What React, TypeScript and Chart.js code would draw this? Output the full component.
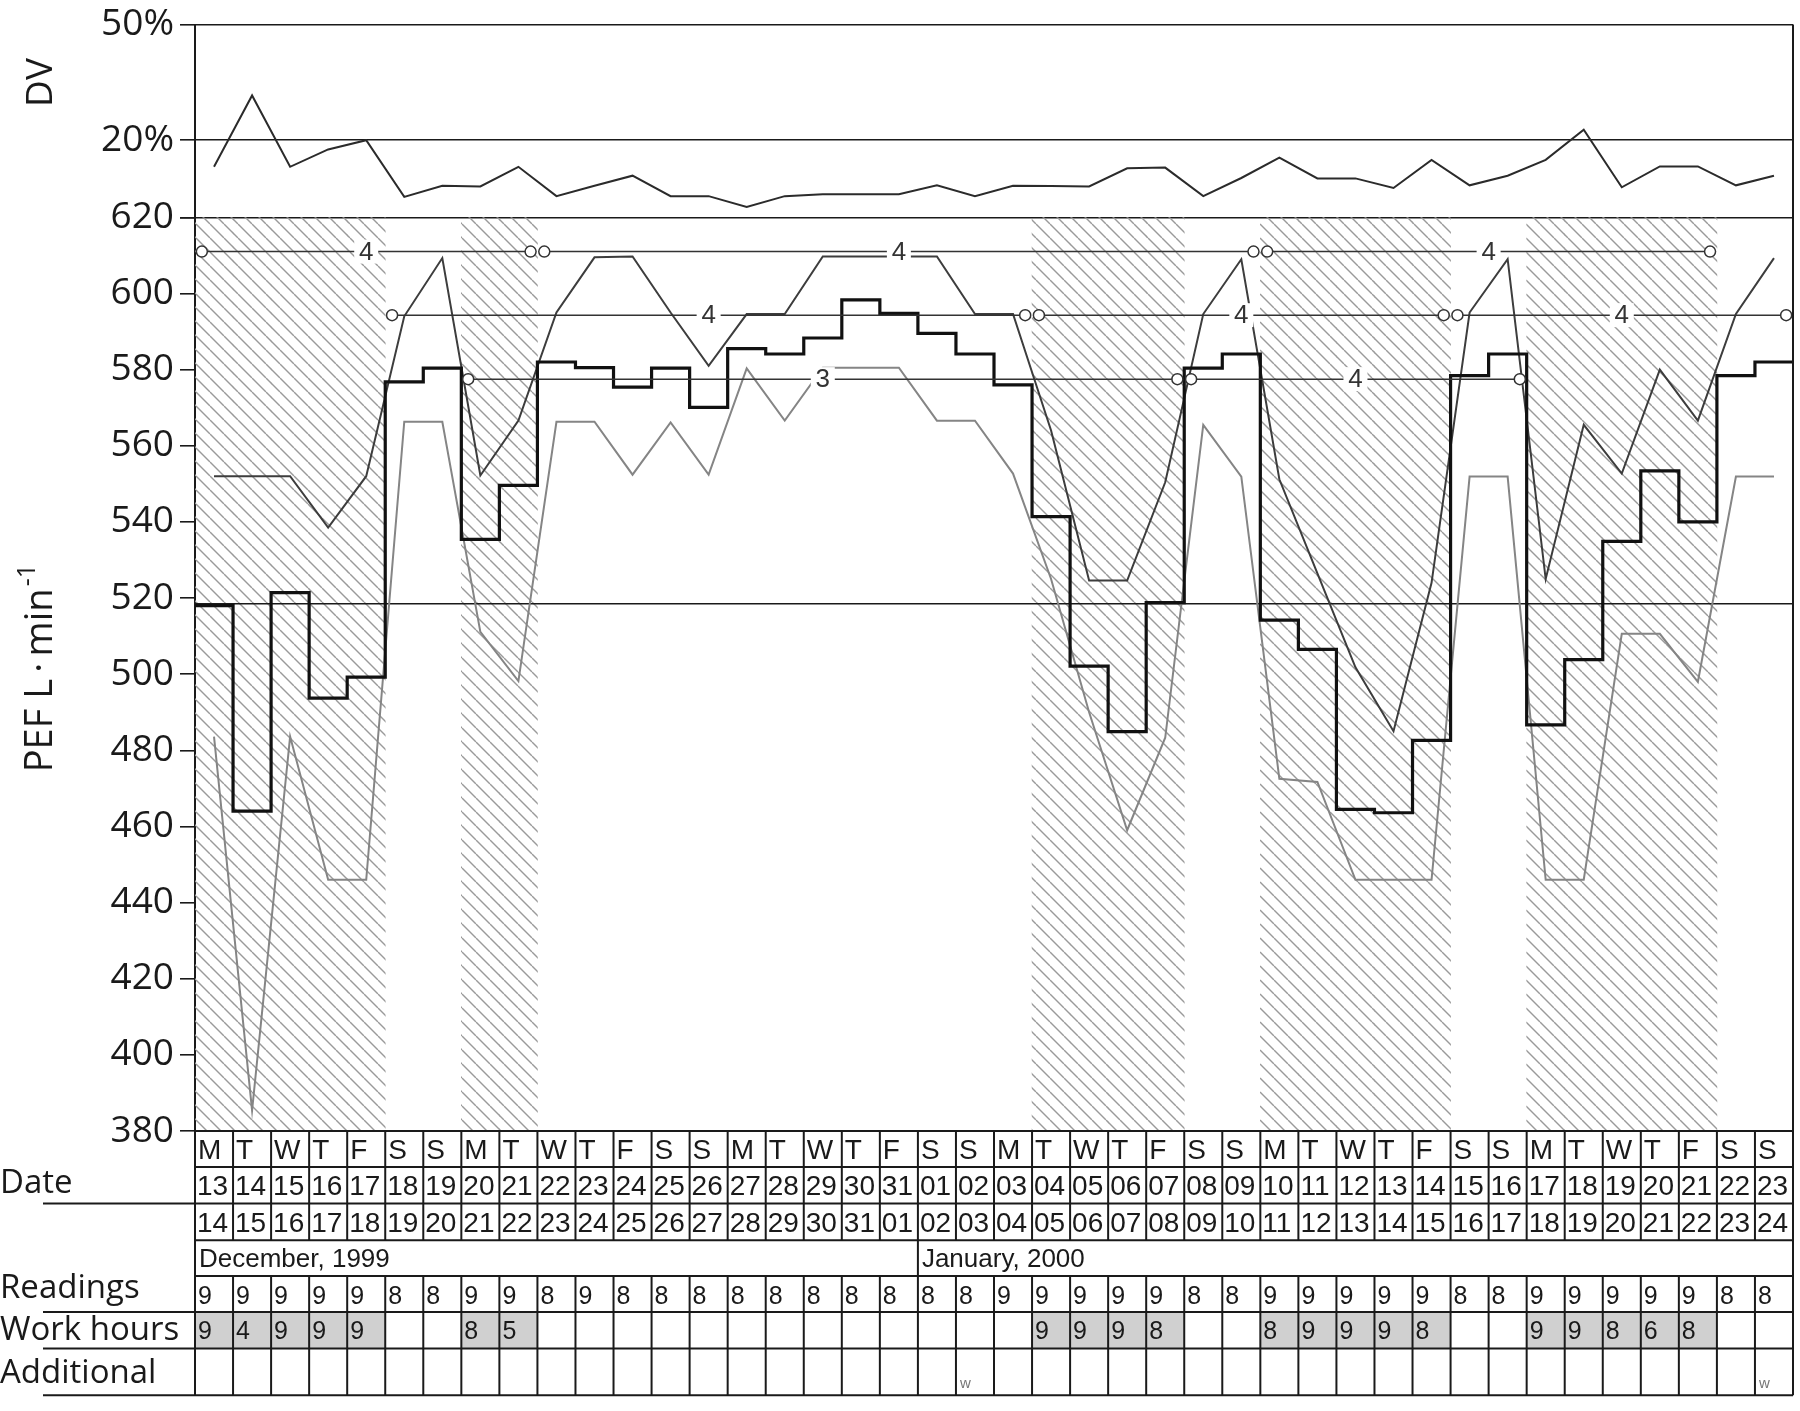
import React, { useEffect, useRef } from "react";
import { Chart, registerables } from "chart.js";
import type { Plugin } from "chart.js";

Chart.register(...registerables);

// ---- data -------------------------------------------------------------
const dayLetters = [
  "M", "T", "W", "T", "F", "S", "S",
  "M", "T", "W", "T", "F", "S", "S",
  "M", "T", "W", "T", "F", "S", "S",
  "M", "T", "W", "T", "F", "S", "S",
  "M", "T", "W", "T", "F", "S", "S",
  "M", "T", "W", "T", "F", "S", "S",
];
const dateFrom = [
  "13", "14", "15", "16", "17", "18", "19", "20", "21", "22", "23", "24", "25", "26",
  "27", "28", "29", "30", "31", "01", "02", "03", "04", "05", "06", "07", "08", "09",
  "10", "11", "12", "13", "14", "15", "16", "17", "18", "19", "20", "21", "22", "23",
];
const dateTo = [
  "14", "15", "16", "17", "18", "19", "20", "21", "22", "23", "24", "25", "26", "27",
  "28", "29", "30", "31", "01", "02", "03", "04", "05", "06", "07", "08", "09", "10",
  "11", "12", "13", "14", "15", "16", "17", "18", "19", "20", "21", "22", "23", "24",
];
const months = [
  { label: "December, 1999", start: 0 },
  { label: "January, 2000", start: 19 },
];
const readings = [
  9, 9, 9, 9, 9, 8, 8, 9, 9, 8, 9, 8, 8, 8, 8, 8, 8, 8, 8,
  8, 8, 9, 9, 9, 9, 9, 8, 8, 9, 9, 9, 9, 9, 8, 8, 9, 9, 9, 9, 9, 8, 8,
];
const workHours: (number | null)[] = [
  9, 4, 9, 9, 9, null, null, 8, 5, null, null, null, null, null,
  null, null, null, null, null, null, null, null, 9, 9, 9, 8, null, null,
  8, 9, 9, 9, 8, null, null, 9, 9, 8, 6, 8, null, null,
];
const additional: string[] = [
  "", "", "", "", "", "", "", "", "", "", "", "", "", "",
  "", "", "", "", "", "", "w", "", "", "", "", "", "", "",
  "", "", "", "", "", "", "", "", "", "", "", "", "", "w",
];

// diurnal variation, %
const dvPercent = [
  13.1, 31.6, 13.1, 17.6, 20.0, 5.3, 8.2, 8.0, 13.1, 5.5, 8.2, 10.8, 5.5, 5.5,
  2.7, 5.5, 6.0, 6.0, 6.0, 8.3, 5.5, 8.2, 8.1, 8.0, 12.7, 12.9, 5.5, 10.2,
  15.5, 10.1, 10.1, 7.6, 14.9, 8.3, 10.8, 14.9, 22.7, 7.8, 13.2, 13.2, 8.3, 10.8,
];
// PEF L/min: daily maximum, mean and minimum
const pefMax = [
  552, 552, 552, 538.5, 552, 594, 609.3, 552.2, 566.6, 595, 609.5, 609.7, 595, 581,
  594.6, 594.6, 609.7, 609.7, 609.7, 609.7, 594.6, 594.6, 564, 524.6, 524.6, 550.4, 594.6, 609,
  551.2, 526.5, 501.8, 485, 524, 595, 609, 525, 565.5, 552.7, 580, 566.6, 594.6, 609.3,
];
const pefMean = [
  518, 464, 521.4, 493.7, 499.2, 576.8, 580.4, 535.4, 549.6, 582, 580.5, 575.4, 580.4, 570.1,
  585.5, 584.1, 588.3, 598.3, 594.8, 589.5, 584.1, 576, 541.4, 502.1, 484.9, 518.8, 580.4, 584.1,
  514.2, 506.5, 464.5, 463.6, 482.6, 578.4, 584.1, 486.7, 503.8, 534.9, 553.4, 540, 578.4, 582,
];
const pefMin = [
  483.6, 385.4, 483.6, 446, 446, 566.3, 566.3, 511.1, 498.2, 566.3, 566.3, 552.4, 566.1, 552.4,
  580.3, 566.6, 580.5, 580.5, 580.5, 566.6, 566.6, 552.7, 525, 490, 459, 483.3, 565.5, 551.9,
  472.5, 471.7, 446, 446, 446, 551.9, 551.9, 446, 446, 510.6, 510.6, 498, 551.9, 551.9,
];
const referencePef = 518.5;

// period bars: [first day, day after last, PEF level, label]
const periods: { from: number; to: number; level: number; label: string }[] = [
  { from: 0, to: 9, level: 611, label: "4" },
  { from: 9, to: 28, level: 611, label: "4" },
  { from: 28, to: 40, level: 611, label: "4" },
  { from: 5, to: 22, level: 594.3, label: "4" },
  { from: 22, to: 33, level: 594.3, label: "4" },
  { from: 33, to: 42, level: 594.3, label: "4" },
  { from: 7, to: 26, level: 577.5, label: "3" },
  { from: 26, to: 35, level: 577.5, label: "4" },
];

// ---- styling ---------------------------------------------------------
const LABEL_FONT = '"Open Sans", "DejaVu Sans", sans-serif';
const CELL_FONT = '"Liberation Sans", Arial, sans-serif';
const INK = "#1a1a1a";
const ROW_OFFSETS = [0, 36, 72.6, 109.3, 145, 181, 217.6, 264.3];
const END_INSET = 0.18;

function makeHatch(): CanvasPattern | string {
  const size = 14;
  const c = document.createElement("canvas");
  c.width = size;
  c.height = size;
  const g = c.getContext("2d");
  if (!g) return "#ddd";
  g.strokeStyle = "#9a9a9a";
  g.lineWidth = 1.4;
  for (const k of [-size, 0, size]) {
    g.beginPath();
    g.moveTo(k, 0);
    g.lineTo(k + size, size);
    g.stroke();
  }
  return g.createPattern(c, "repeat") ?? "#ddd";
}

const periodLabels: Plugin<"line"> = {
  id: "periodLabels",
  afterDatasetsDraw(chart) {
    const { ctx } = chart;
    const x = chart.scales.x;
    const y = chart.scales.yPEF;
    ctx.save();
    ctx.font = `26px ${CELL_FONT}`;
    ctx.textAlign = "center";
    ctx.textBaseline = "middle";
    for (const p of periods) {
      const px = x.getPixelForValue((p.from + p.to) / 2);
      const py = y.getPixelForValue(p.level);
      ctx.fillStyle = "#fff";
      ctx.fillRect(px - 12, py - 12, 24, 24);
      ctx.fillStyle = "#333";
      ctx.fillText(p.label, px, py + 1);
    }
    ctx.restore();
  },
};

const tablePlugin: Plugin<"line"> = {
  id: "pefTable",
  afterDraw(chart) {
    const { ctx, chartArea } = chart;
    const xs = chart.scales.x;
    const n = dayLetters.length;
    const colX = (i: number) => xs.getPixelForValue(i);
    const L = chartArea.left;
    const R = chartArea.right;
    const rows = ROW_OFFSETS.map((o) => chartArea.bottom + o);
    const line = (x1: number, y1: number, x2: number, y2: number) => {
      ctx.beginPath();
      ctx.moveTo(x1, y1);
      ctx.lineTo(x2, y2);
      ctx.stroke();
    };

    ctx.save();
    // shaded work-hour cells
    ctx.fillStyle = "#d0d0d0";
    workHours.forEach((h, i) => {
      if (h != null) ctx.fillRect(colX(i), rows[5], colX(i + 1) - colX(i), rows[6] - rows[5]);
    });

    ctx.strokeStyle = INK;
    ctx.lineWidth = 2;
    rows.forEach((y, k) => {
      const extend = k === 2 || k >= 5;
      line(extend ? 43 : L, y, R, y);
    });
    line(L, rows[0], L, rows[7]);
    line(R, chartArea.top, R, rows[7]);
    for (let i = 1; i < n; i++) {
      const x = colX(i);
      line(x, rows[0], x, rows[3]);
      line(x, rows[4], x, rows[7]);
    }
    months.forEach((m) => {
      if (m.start > 0) line(colX(m.start), rows[3], colX(m.start), rows[4]);
    });

    // cell texts
    ctx.fillStyle = INK;
    ctx.textAlign = "left";
    ctx.textBaseline = "middle";
    const mid = (a: number, b: number) => (a + b) / 2 + 2;
    ctx.font = `28px ${CELL_FONT}`;
    for (let i = 0; i < n; i++) {
      ctx.fillText(dayLetters[i], colX(i) + 3, mid(rows[0], rows[1]));
      ctx.fillText(dateFrom[i], colX(i) + 2, mid(rows[1], rows[2]));
      ctx.fillText(dateTo[i], colX(i) + 2, mid(rows[2], rows[3]));
    }
    ctx.font = `26px ${CELL_FONT}`;
    months.forEach((m) => ctx.fillText(m.label, colX(m.start) + 4, mid(rows[3], rows[4])));
    ctx.font = `25px ${CELL_FONT}`;
    for (let i = 0; i < n; i++) {
      ctx.fillText(String(readings[i]), colX(i) + 3, mid(rows[4], rows[5]) + 1);
      const h = workHours[i];
      if (h != null) ctx.fillText(String(h), colX(i) + 3, mid(rows[5], rows[6]));
    }
    ctx.font = `15px ${CELL_FONT}`;
    ctx.fillStyle = "#777";
    ctx.textBaseline = "alphabetic";
    additional.forEach((a, i) => {
      if (a) ctx.fillText(a, colX(i) + 4, rows[7] - 7);
    });

    // row titles
    ctx.fillStyle = INK;
    ctx.font = `33px ${LABEL_FONT}`;
    ctx.fillText("Date", 0, rows[2] - 11);
    ctx.fillText("Readings", 0, rows[5] - 14);
    ctx.fillText("Work hours", 0, rows[6] - 9);
    ctx.fillText("Additional", 0, rows[7] - 12);

    // rotated axis titles
    const dv = chart.scales.yDV;
    ctx.font = `37px ${LABEL_FONT}`;
    ctx.textAlign = "center";
    ctx.textBaseline = "middle";
    ctx.save();
    ctx.translate(41, dv.top + 58);
    ctx.rotate(-Math.PI / 2);
    ctx.fillText("DV", 0, 0);
    ctx.restore();

    const pef = chart.scales.yPEF;
    ctx.save();
    ctx.translate(41, (pef.top + pef.bottom) / 2 - 6);
    ctx.rotate(-Math.PI / 2);
    ctx.font = `38px ${LABEL_FONT}`;
    const main = "PEF L\u2009·\u2009min";
    const w1 = ctx.measureText(main).width;
    ctx.font = `25px ${LABEL_FONT}`;
    const sup = "-1";
    const w2 = ctx.measureText(sup).width;
    const start = -(w1 + w2 + 2) / 2;
    ctx.textAlign = "left";
    ctx.font = `38px ${LABEL_FONT}`;
    ctx.fillText(main, start, 0);
    ctx.font = `25px ${LABEL_FONT}`;
    ctx.fillText(sup, start + w1 + 2, -13);
    ctx.restore();

    ctx.restore();
  },
};

// ---- component -------------------------------------------------------
const PefChart: React.FC = () => {
  const canvasRef = useRef<HTMLCanvasElement>(null);

  useEffect(() => {
    document.body.style.margin = "0";
    const canvas = canvasRef.current;
    if (!canvas) return;
    const ctx = canvas.getContext("2d");
    if (!ctx) return;

    const nDays = dayLetters.length;
    const centre = (arr: number[]) => arr.map((v, i) => ({ x: i + 0.5, y: v }));
    const hatch = makeHatch();
    const workCols = workHours
      .map((h, i) => (h != null ? i : -1))
      .filter((i) => i >= 0);

    const tickFont = { family: LABEL_FONT, size: 37, lineHeight: 1 };

    const chart = new Chart(ctx, {
      type: "line",
      data: {
        datasets: [
          ...periods.map((p) => ({
            label: "period",
            yAxisID: "yPEF",
            data: [
              { x: p.from + END_INSET, y: p.level },
              { x: p.to - END_INSET, y: p.level },
            ],
            borderColor: "#333",
            borderWidth: 1.5,
            pointRadius: 5.5,
            pointBorderWidth: 1.5,
            pointBackgroundColor: "#fff",
            pointBorderColor: "#333",
            order: 0,
          })),
          {
            label: "mean",
            yAxisID: "yPEF",
            data: [
              ...pefMean.map((v, i) => ({ x: i, y: v })),
              { x: nDays, y: pefMean[nDays - 1] },
            ],
            stepped: true,
            borderColor: "#111",
            borderWidth: 3.2,
            pointRadius: 0,
            order: 1,
          },
          {
            label: "max",
            yAxisID: "yPEF",
            data: centre(pefMax),
            borderColor: "#3d3d3d",
            borderWidth: 2,
            pointRadius: 0,
            order: 2,
          },
          {
            label: "min",
            yAxisID: "yPEF",
            data: centre(pefMin),
            borderColor: "#858585",
            borderWidth: 2,
            pointRadius: 0,
            order: 3,
          },
          {
            label: "DV",
            yAxisID: "yDV",
            data: centre(dvPercent),
            borderColor: "#2b2b2b",
            borderWidth: 2,
            pointRadius: 0,
            order: 2,
          },
          {
            label: "reference",
            yAxisID: "yPEF",
            data: [
              { x: 0, y: referencePef },
              { x: nDays, y: referencePef },
            ],
            borderColor: INK,
            borderWidth: 1.6,
            pointRadius: 0,
            order: 4,
          },
          {
            type: "bar",
            label: "work",
            yAxisID: "yPEF",
            data: workCols.map((i) => ({ x: i + 0.5, y: [380, 620] })),
            backgroundColor: hatch,
            borderWidth: 0,
            barPercentage: 1,
            categoryPercentage: 1,
            order: 10,
          } as any,
        ],
      },
      options: {
        responsive: false,
        animation: false,
        layout: { padding: { top: 23, right: 5, bottom: 280, left: 0 } },
        plugins: { legend: { display: false }, tooltip: { enabled: false } },
        scales: {
          x: {
            type: "linear",
            min: 0,
            max: nDays,
            offset: false,
            display: false,
            ticks: { stepSize: 1 },
          },
          yDV: {
            type: "linear",
            position: "left",
            stack: "y",
            stackWeight: 193,
            weight: 2,
            min: 0,
            max: 50,
            afterBuildTicks: (s: any) => {
              s.ticks = [{ value: 0 }, { value: 20 }, { value: 50 }];
            },
            afterFit: (s: any) => {
              s.width = 195;
            },
            ticks: {
              callback: (v: any) => (v === 0 ? "" : `${v}%`),
              font: tickFont,
              color: INK,
              padding: 6,
            },
            grid: { color: INK, lineWidth: 1.6, tickLength: 15 },
            border: { display: true, color: INK, width: 2 },
          },
          yPEF: {
            type: "linear",
            position: "left",
            stack: "y",
            stackWeight: 914.4,
            weight: 1,
            min: 380,
            max: 620,
            afterFit: (s: any) => {
              s.width = 195;
            },
            ticks: {
              stepSize: 20,
              autoSkip: false,
              font: tickFont,
              color: INK,
              padding: 6,
            },
            grid: { drawOnChartArea: false, color: INK, lineWidth: 1.6, tickLength: 15 },
            border: { display: true, color: INK, width: 2 },
          },
        },
      } as any,
      plugins: [periodLabels, tablePlugin],
    });

    return () => {
      chart.destroy();
    };
  }, []);

  return (
    <div style={{ width: 1800, height: 1411, background: "#fff" }}>
      <canvas ref={canvasRef} width={1800} height={1411} style={{ display: "block" }} />
    </div>
  );
};

export default function App() {
  return <PefChart />;
}
